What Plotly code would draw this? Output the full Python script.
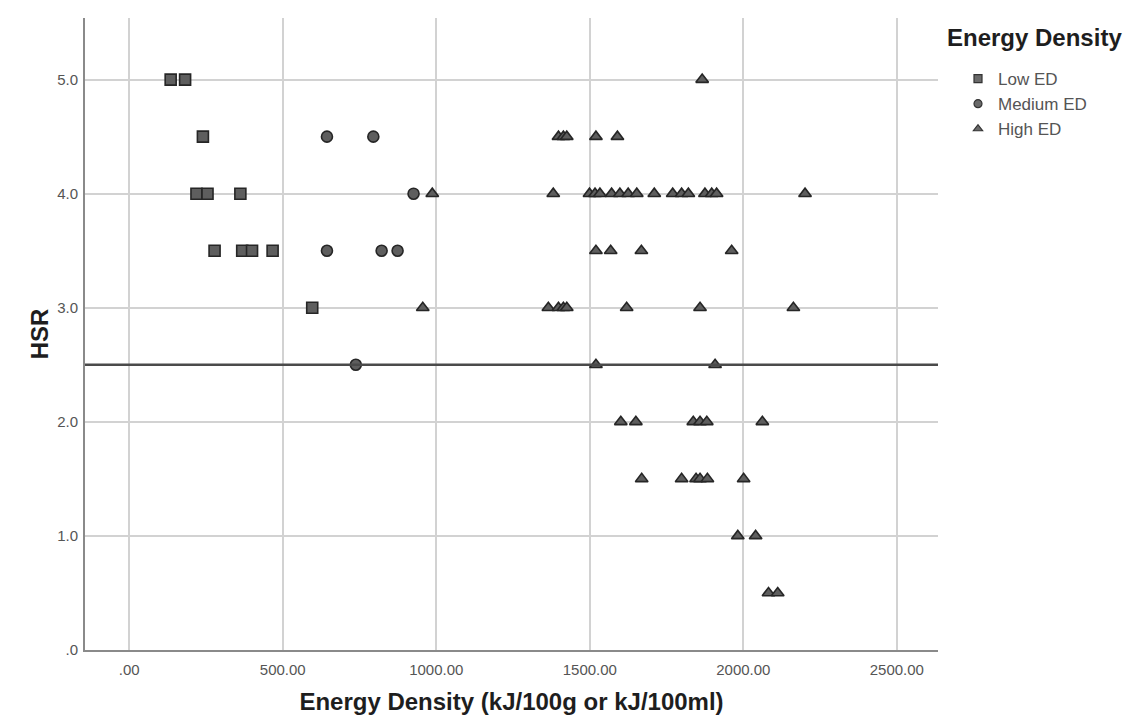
import plotly.graph_objects as go

# ---- data ----
low_x = [135, 182, 240, 219, 255, 362, 278, 368, 400, 467, 596]
low_y = [5.0, 5.0, 4.5, 4.0, 4.0, 4.0, 3.5, 3.5, 3.5, 3.5, 3.0]

med_x = [644, 795, 926, 644, 822, 874, 738]
med_y = [4.5, 4.5, 4.0, 3.5, 3.5, 3.5, 2.5]

high_x = [1866,
          1398, 1414, 1425, 1520, 1590,
          987, 1381, 1499, 1517, 1533, 1571, 1598, 1625, 1653, 1710, 1770, 1799, 1821, 1875, 1897, 1913, 2201,
          1520, 1568, 1668, 1962,
          956, 1365, 1398, 1414, 1425, 1620, 1859, 2163,
          1520, 1908,
          1601, 1650, 1837, 1859, 1881, 2062,
          1669, 1799, 1846, 1859, 1883, 2001,
          1982, 2040,
          2082, 2112]
high_y = [5.0,
          4.5, 4.5, 4.5, 4.5, 4.5,
          4.0, 4.0, 4.0, 4.0, 4.0, 4.0, 4.0, 4.0, 4.0, 4.0, 4.0, 4.0, 4.0, 4.0, 4.0, 4.0, 4.0,
          3.5, 3.5, 3.5, 3.5,
          3.0, 3.0, 3.0, 3.0, 3.0, 3.0, 3.0, 3.0,
          2.5, 2.5,
          2.0, 2.0, 2.0, 2.0, 2.0, 2.0,
          1.5, 1.5, 1.5, 1.5, 1.5, 1.5,
          1.0, 1.0,
          0.5, 0.5]

ref_line_y = 2.5

x_tickvals = [0, 500, 1000, 1500, 2000, 2500]
x_ticktext = [".00", "500.00", "1000.00", "1500.00", "2000.00", "2500.00"]
y_tickvals = [0, 1, 2, 3, 4, 5]
y_ticktext = [".0", "1.0", "2.0", "3.0", "4.0", "5.0"]

series_names = ["Low ED", "Medium ED", "High ED"]
symbols = ["square", "circle", "triangle-up"]
legend_title = "Energy Density"

# ---- figure ----
FILL = "#5e5e5e"
EDGE = "#262626"
TITLE_FONT = dict(size=24, color="#1e1e1e", family="Liberation Sans, Arial, sans-serif")

fig = go.Figure()
for xs, ys, name, sym in zip([low_x, med_x, high_x], [low_y, med_y, high_y], series_names, symbols):
    fig.add_trace(go.Scatter(x=xs, y=ys, mode="markers", name=name, showlegend=False,
                             legendgroup=name,
                             marker=dict(symbol=sym, size=11, color=FILL,
                                         line=dict(color=EDGE, width=1.6))))
# legend-only entries (smaller legend symbols, as in the reference)
for name, sym in zip(series_names, symbols):
    fig.add_trace(go.Scatter(x=[None], y=[None], mode="markers", name=name,
                             legendgroup=name, showlegend=True,
                             marker=dict(symbol=sym, size=8, color="#6a6a6a",
                                         line=dict(color="#333333", width=1.2))))

fig.add_hline(y=ref_line_y, line=dict(color="#4a4a4a", width=2.5), layer="above")

fig.add_annotation(text="<b>" + legend_title + "</b>", xref="paper", yref="paper",
                   x=(945 - 85) / 853, y=1 - (37 - 18) / 632, xanchor="left", yanchor="middle",
                   showarrow=False, font=TITLE_FONT)

fig.update_layout(
    width=1126, height=726,
    margin=dict(l=85, r=188, t=18, b=76),
    paper_bgcolor="white", plot_bgcolor="white",
    font=dict(family="Liberation Sans, Arial, sans-serif", color="#555555"),
    showlegend=True,
    legend=dict(
        xref="container", yref="container",
        x=958 / 1126, xanchor="left", y=1 - 61 / 726, yanchor="top",
        font=dict(size=17, color="#555555"),
        itemsizing="trace", tracegroupgap=0,
        bgcolor="rgba(0,0,0,0)",
    ),
    xaxis=dict(
        range=[-144, 2634],
        tickvals=x_tickvals, ticktext=x_ticktext,
        tickfont=dict(size=15, color="#555555"),
        showgrid=True, gridcolor="#d2d2d2", gridwidth=1.5,
        zeroline=False,
        showline=True, linecolor="#8a8a8a", linewidth=2,
        ticks="", ticklabelstandoff=5,
        title=dict(text="<b>Energy Density (kJ/100g or kJ/100ml)</b>",
                   font=TITLE_FONT, standoff=16),
    ),
    yaxis=dict(
        range=[0, 5.54],
        tickvals=y_tickvals, ticktext=y_ticktext,
        tickfont=dict(size=15, color="#555555"),
        showgrid=True, gridcolor="#d2d2d2", gridwidth=1.5,
        zeroline=False,
        showline=True, linecolor="#8a8a8a", linewidth=2,
        ticks="", ticklabelstandoff=2,
        title=dict(text="<b>HSR</b>", font=TITLE_FONT, standoff=2),
    ),
)

fig.write_html("out.html")
